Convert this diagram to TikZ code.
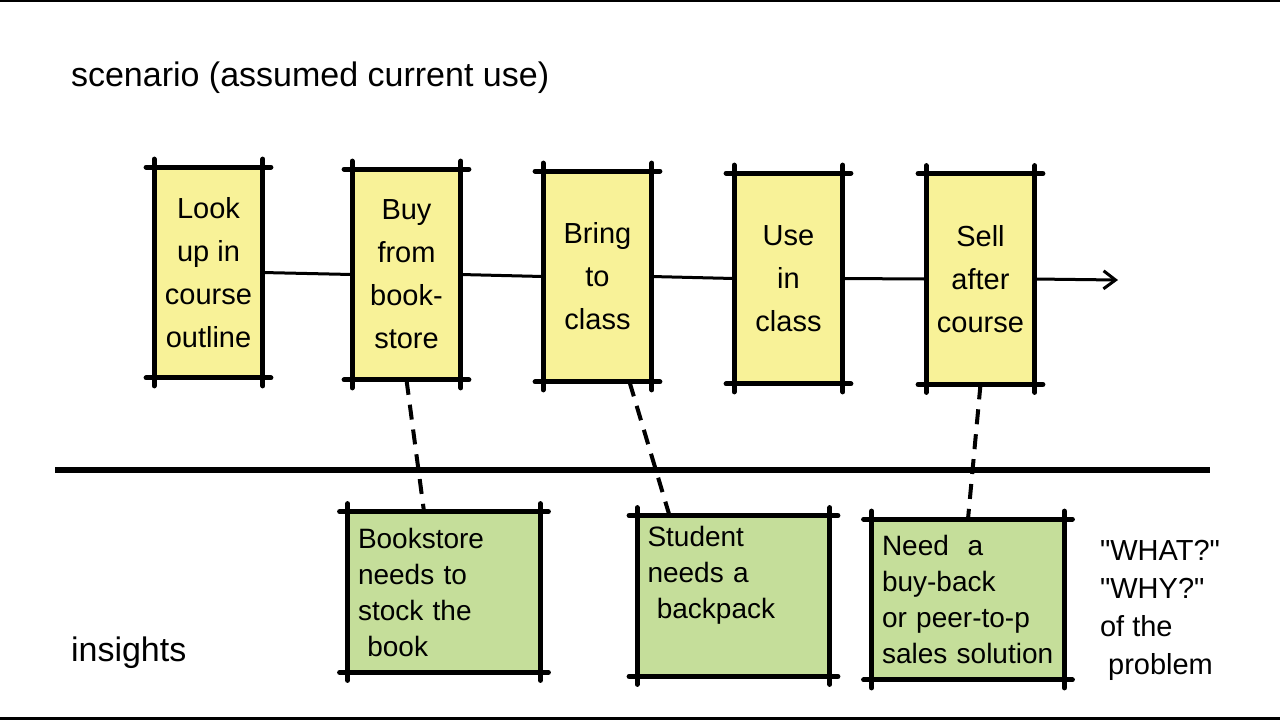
\documentclass[tikz,border=0pt]{standalone}
\usepackage{fontspec}
\setmainfont{Liberation Sans}
\usetikzlibrary{arrows.meta}
\definecolor{noteyellow}{RGB}{248,242,152}
\definecolor{notegreen}{RGB}{197,222,154}
\tikzset{
	stepbox/.style={fill=noteyellow,minimum width=54pt,minimum height=105pt,inner sep=0pt,align=center,font=\fontsize{14.5}{21.5}\selectfont},
	insightbox/.style={fill=notegreen,minimum width=96pt,minimum height=80pt,text width=86pt,align=left,font=\fontsize{14}{18}\selectfont},
	noteedge/.style={line width=2.5pt,line cap=round,shorten <=-4pt,shorten >=-4pt},
	flow/.style={line width=1.5pt},
	dashlink/.style={line width=2pt,dash pattern=on 7.5pt off 5pt},
	heading/.style={font=\fontsize{17}{20}\selectfont,anchor=west}
}
\begin{document}
\begin{tikzpicture}[x=0.5pt,y=-0.5pt]
				\useasboundingbox (0,0) rectangle (1280,720);
				\fill[white] (0,0) rectangle (1280,720);
				\fill[black] (0,0) rectangle (1280,2);
				\fill[black] (0,717) rectangle (1280,720);
				% headings
				\node[heading] (scen) at (64,78) {scenario (assumed current use)};
				\node[heading] (ins) at (64,653) {insights};
				% scenario steps
				\node[stepbox] (s1) at (208.5,272.5) {Look\\up in\\course\\outline};
				\node[stepbox] (s2) at (406.5,274.5) {Buy\\from\\book-\\store};
				\node[stepbox] (s3) at (597.5,276.5) {Bring\\to\\class};
				\node[stepbox] (s4) at (788.5,278.5) {Use\\in\\class};
				\node[stepbox] (s5) at (980.5,279) {Sell\\after\\course};
				\coordinate (arrowend) at (1118,280);
				% insights
				\node[insightbox] (i1) at (444,592) {Bookstore\\needs to\\stock the\\\ book};
				\node[insightbox] (i2) at (733.5,596) {Student\\needs a\\\ backpack\\ \strut};
				\node[insightbox] (i3) at (968,599.5) {Need\ \ a\\buy-back\\or peer-to-p\\sales solution};
				\node[font=\fontsize{14.5}{19}\selectfont,align=left,anchor=north west] (what) at (1093,533) {\textquotedbl WHAT?\textquotedbl\\\textquotedbl WHY?\textquotedbl\\of the\\\ problem};
				% box outlines
				\foreach \n in {s1,s2,s3,s4,s5,i1,i2,i3} {
					\draw[noteedge] (\n.north west) -- (\n.north east);
					\draw[noteedge] (\n.south west) -- (\n.south east);
					\draw[noteedge] (\n.north west) -- (\n.south west);
					\draw[noteedge] (\n.north east) -- (\n.south east);
				}
				% timeline
				\draw[flow] (s1.east) -- (s2.west);
				\draw[flow] (s2.east) -- (s3.west);
				\draw[flow] (s3.east) -- (s4.west);
				\draw[flow] (s4.east) -- (s5.west);
				\draw[flow,-{Straight Barb[length=6pt,width=9pt]}] (s5.east) -- (arrowend);
				% divider
				\draw[line width=3pt] (55,470) -- (1210,470);
				% ties
				\draw[dashlink] (s2.south) -- ([xshift=-10pt]i1.north);
				\draw[dashlink] ([xshift=16pt]s3.south) -- ([xshift=-32pt]i2.north);
				\draw[dashlink] (s5.south) -- (i3.north);
			\end{tikzpicture}
\end{document}
